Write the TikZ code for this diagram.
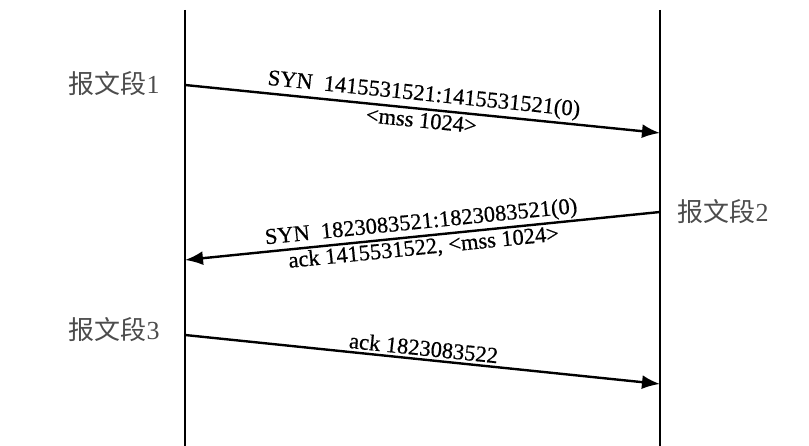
\documentclass[tikz,border=0pt]{standalone}
\usepackage{fontspec}
\setmainfont{Liberation Serif}
\newfontfamily\cjk{Noto Sans CJK SC}
\newfontfamily\msgfont[FakeBold=0.6]{Liberation Serif}
\usepackage{tikz}
\usetikzlibrary{arrows.meta}
\tikzstyle{lifeline} =
        [
                line width = 1.4pt,
                draw = black
        ]
\tikzstyle{msg} =
        [
                line width = 2.4pt,
                draw = black,
                -{Latex[length=18pt,width=14pt]}
        ]
\tikzstyle{segment} =
        [
                text = black!70,
                inner sep = 0pt,
                font = \fontsize{26}{26}\selectfont
        ]
\tikzstyle{info} =
        [
                sloped,
                inner sep = 2.5pt,
                font = \msgfont\fontsize{22.5}{22.5}\selectfont
        ]

\begin{document}
\begin{tikzpicture}[x=1pt, y=-1pt]
    \useasboundingbox (0,0) rectangle (809,446);
    % lifelines
    \coordinate (top-l) at (185,10);
    \coordinate (bot-l) at (185,446);
    \coordinate (top-r) at (660,10);
    \coordinate (bot-r) at (660,446);
    \path [lifeline] (top-l) -- (bot-l);
    \path [lifeline] (top-r) -- (bot-r);
    % message ends
    \coordinate (syn-a) at (185,85);
    \coordinate (syn-b) at (660,133);
    \coordinate (synack-a) at (660,212);
    \coordinate (synack-b) at (185,260);
    \coordinate (ack-a) at (185,335);
    \coordinate (ack-b) at (660,384);
    % segment names
    \node [segment] (seg1) at (114,84) {{\cjk 报文段}1};
    \node [segment] (seg2) at (723,212) {{\cjk 报文段}2};
    \node [segment] (seg3) at (114,330) {{\cjk 报文段}3};
    % messages
    \path [msg] (syn-a) -- (syn-b)
        node [info, midway, above] (syn-txt) {SYN~~1415531521:1415531521(0)}
        node [info, midway, below] (mss-txt) {<mss 1024>};
    \path [msg] (synack-a) -- (synack-b);
    \path (synack-b) -- (synack-a)
        node [info, midway, above] (synack-txt) {SYN~~1823083521:1823083521(0)}
        node [info, midway, below] (ackmss-txt) {ack 1415531522, <mss 1024>};
    \path [msg] (ack-a) -- (ack-b)
        node [info, midway, above] (ack-txt) {ack 1823083522};
\end{tikzpicture}
\end{document}
